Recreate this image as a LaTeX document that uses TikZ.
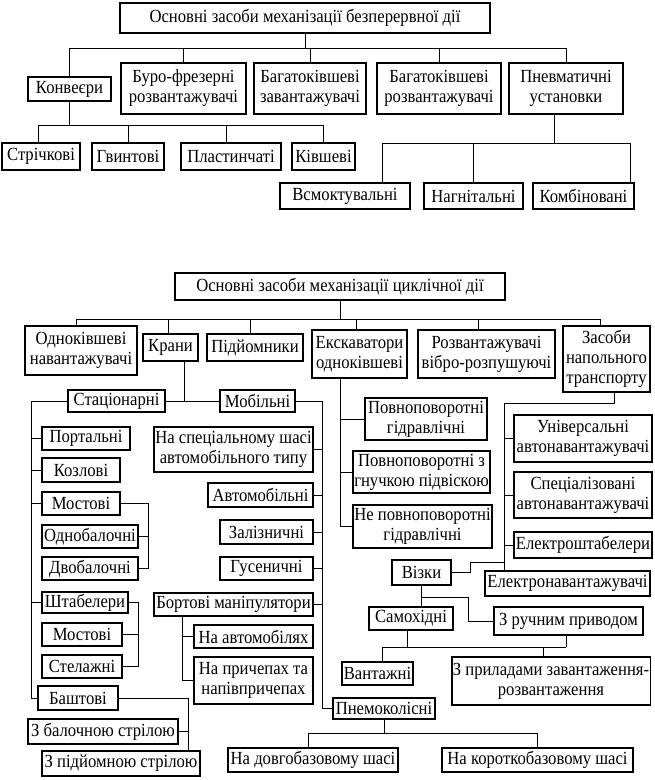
\documentclass[tikz,border=0pt]{standalone}
\usepackage{fontspec}
\setmainfont{Liberation Serif}[FakeStretch=0.9]
\usetikzlibrary{calc}
\tikzset{
  box/.style={draw, line width=1.3pt, inner sep=1pt, align=center, font=\fontsize{18.5}{20}\selectfont},
  ln/.style={line width=0.9pt},
}
\newcommand\bx[6]{%
  \node[box, minimum width={#4pt-#2pt}, minimum height={#5pt-#3pt}] (#1) at ({(#2+#4)/2},{(#3+#5)/2}) {#6};}
\newcommand\drop[4]{%
  \coordinate (#4) at ([xshift=#2pt]#1.north);
  \draw[ln] (#4) -- (#4 |- #3);}
\begin{document}
\begin{tikzpicture}[x=1pt,y=-1pt]
\useasboundingbox (0,0) rectangle (655,780);
\fill[white] (0,0) rectangle (655,780);
% ---------- section 1 ----------
\bx{t1}{120}{3}{490}{33}{Основні засоби механізації безперервної дії}
\bx{konv}{28}{77}{111}{101}{Конвеєри}
\bx{buro}{121}{63}{246}{114}{Буро-фрезерні\\розвантажувачі}
\bx{bz}{254}{63}{366}{114}{Багатоківшеві\\завантажувачі}
\bx{br}{377}{63}{501}{114}{Багатоківшеві\\розвантажувачі}
\bx{pn}{509}{63}{623}{114}{Пневматичні\\установки}
\bx{s1}{2}{143}{80}{170}{Стрічкові}
\bx{s2}{92}{143}{164}{170}{Гвинтові}
\bx{s3}{181}{143}{281}{170}{Пластинчаті}
\bx{s4}{292}{143}{355}{170}{Ківшеві}
\bx{vs}{280}{183}{410}{209}{Всмоктувальні}
\bx{nag}{424}{183}{523}{209}{Нагнітальні}
\bx{komb}{533}{183}{634}{209}{Комбіновані}

\coordinate (b1) at (0,48);
\draw[ln] (t1.south) -- (t1.south |- b1);
\drop{konv}{0}{b1}{a1}\drop{buro}{0}{b1}{a2}\drop{bz}{0}{b1}{a3}\drop{br}{0}{b1}{a4}\drop{pn}{0}{b1}{a5}
\draw[ln] (a1 |- b1) -- (a5 |- b1);

\coordinate (bk) at (0,125);
\draw[ln] (konv.south) -- (konv.south |- bk);
\drop{s1}{-3}{bk}{c1}\drop{s2}{0}{bk}{c2}\drop{s3}{-5}{bk}{c3}\drop{s4}{0}{bk}{c4}
\draw[ln] (c1 |- bk) -- (c4 |- bk);

\coordinate (bp) at (0,143);
\coordinate (pp) at ([xshift=-12pt]pn.south);
\draw[ln] (pp) -- (pp |- bp);
\drop{vs}{37}{bp}{e1}\drop{nag}{0}{bp}{e2}\drop{komb}{47}{bp}{e3}
\draw[ln] (e1 |- bp) -- (e3 |- bp);

% ---------- section 2 ----------
\bx{t2}{175}{273}{505}{300}{Основні засоби механізації циклічної дії}
\bx{od}{25}{326}{137}{375}{Одноківшеві\\навантажувачі}
\bx{kr}{143}{334}{198}{361}{Крани}
\bx{pid}{207}{334}{303}{361}{Підйомники}
\bx{ek}{312}{330}{407}{378}{Екскаватори\\одноківшеві}
\bx{roz}{418}{330}{555}{378}{Розвантажувачі\\вібро-розпушуючі}
\bx{zas}{563}{326}{650}{392}{Засоби\\напольного\\транспорту}

\coordinate (b2) at (0,319);
\draw[ln] (t2.south) -- (t2.south |- b2);
\drop{od}{-5}{b2}{f1}\drop{kr}{-2.5}{b2}{f2}\drop{pid}{-5}{b2}{f3}\drop{ek}{-3.5}{b2}{f4}\drop{roz}{-8.5}{b2}{f5}\drop{zas}{-6.5}{b2}{f6}
\draw[ln] (f1 |- b2) -- (f6 |- b2);

% cranes
\bx{st}{68}{390}{165}{412}{Стаціонарні}
\bx{mob}{220}{390}{295}{412}{Мобільні}
\bx{port}{42}{427}{130}{450}{Портальні}
\bx{koz}{42}{458}{120}{482}{Козлові}
\bx{most}{42}{492}{120}{515}{Мостові}
\bx{odno}{42}{525}{138}{548}{Однобалочні}
\bx{dvo}{42}{557}{138}{580}{Двобалочні}
\bx{sht}{42}{592}{128}{613}{Штабелери}
\bx{mosts}{42}{623}{122}{646}{Мостові}
\bx{stel}{42}{655}{122}{678}{Стелажні}
\bx{bash}{38}{686}{118}{710}{Баштові}
\bx{zbal}{28}{719}{178}{744}{З балочною стрілою}
\bx{zpid}{42}{751}{200}{776}{З підйомною стрілою}

\coordinate (kd) at ([xshift=13.5pt]kr.south);
\draw[ln] (kd) -- (kd |- st.east);
\draw[ln] (st.east) -- (mob.west);

\coordinate (sv) at (31,0);
\draw[ln] (st.west) -| (sv |- bash.west) -- (bash.west);
\foreach \n in {port,koz,most,sht} \draw[ln] (\n.west) -- (sv |- \n.west);

\coordinate (mb) at (148,0);
\draw[ln] (most.east) -| (mb |- dvo.east) -- (dvo.east);
\draw[ln] (odno.east) -- (mb |- odno.east);

\coordinate (sb) at (138,0);
\draw[ln] (sht.east) -| (sb |- stel.east) -- (stel.east);
\draw[ln] (mosts.east) -- (sb |- mosts.east);

\coordinate (bb) at (188,0);
\draw[ln] (bash.east) -| (bb |- zpid.north);
\draw[ln] (zbal.east) -- (bb |- zbal.east);

% mobile
\bx{spec}{154}{427}{313}{472}{На спеціальному шасі\\автомобільного типу}
\bx{avto}{208}{483}{313}{507}{Автомобільні}
\bx{zal}{220}{520}{313}{544}{Залізничні}
\bx{gus}{220}{557}{313}{580}{Гусеничні}
\bx{bort}{154}{593}{313}{616}{Бортові маніпулятори}
\bx{naavt}{194}{625}{313}{648}{На автомобілях}
\bx{naprych}{194}{657}{313}{704}{На причепах та\\напівпричепах}
\bx{pnemo}{333}{698}{435}{719}{Пнемоколісні}
\bx{dovg}{228}{748}{398}{772}{На довгобазовому шасі}
\bx{kor}{442}{748}{633}{772}{На короткобазовому шасі}

\coordinate (mv) at (322,0);
\draw[ln] (mob.east) -| (mv |- pnemo.west) -- (pnemo.west);
\foreach \n in {spec,avto,zal,gus,bort} \draw[ln] (\n.east) -- (mv |- \n.east);

\coordinate (bv) at (182,0);
\draw[ln] (bv |- bort.south) |- (naprych.west);
\draw[ln] (naavt.west) -- (bv |- naavt.west);

\coordinate (b3) at (0,733);
\draw[ln] (pnemo.south) -- (pnemo.south |- b3);
\drop{dovg}{-5}{b3}{g1}\drop{kor}{0}{b3}{g2}
\draw[ln] (g1 |- b3) -- (g2 |- b3);

% excavators
\bx{pg}{365}{398}{487}{440}{Повноповоротні\\гідравлічні}
\bx{pgn}{353}{451}{490}{493}{Повноповоротні з\\гнучкою підвіскою}
\bx{nep}{353}{505}{492}{548}{Не повноповоротні\\гідравлічні}
\coordinate (ev) at ([xshift=-19.5pt]ek.south);
\draw[ln] (ev) |- (nep.west);
\draw[ln] (pg.west) -- (ev |- pg.west);
\draw[ln] (pgn.west) -- (ev |- pgn.west);

% floor transport
\bx{univ}{514}{415}{652}{462}{Універсальні\\автонавантажувачі}
\bx{spz}{514}{472}{652}{518}{Спеціалізовані\\автонавантажувачі}
\bx{elsh}{514}{532}{652}{558}{Електроштабелери}
\bx{viz}{392}{560}{451}{585}{Візки}
\bx{elnav}{485}{571}{650}{596}{Електронавантажувачі}
\bx{samo}{369}{607}{453}{630}{Самохідні}
\bx{zruch}{494}{607}{643}{635}{З ручним приводом}
\bx{vant}{342}{662}{413}{685}{Вантажні}
\bx{zpryl}{452}{657}{650}{705}{З приладами завантаження-\\розвантаження}

\coordinate (zs) at ([xshift=7.5pt]zas.south);
\coordinate (zv) at (504,403);
\draw[ln] (zs) |- (zv) -- (zv |- elnav.north);
\foreach \n in {univ,spz,elsh} \draw[ln] (\n.west) -- (zv |- \n.west);

\coordinate (vj) at (470,562);
\draw[ln] (viz.east) -| (vj) -- (zv |- vj);

\coordinate (vb) at (468,597);
\draw[ln] (viz.south) -- (viz.south |- samo.north);
\draw[ln] (viz.south |- vb) -| (vb |- zruch.west) -- (zruch.west);

\coordinate (bs) at (0,647);
\coordinate (sd) at ([xshift=-4pt]samo.south);
\draw[ln] (sd) -- (sd |- bs);
\coordinate (zd) at ([xshift=-2.5pt]zruch.south);
\draw[ln] (zd) -- (zd |- bs);
\drop{vant}{4.5}{bs}{h1}\drop{zpryl}{-8}{bs}{h2}
\draw[ln] (h1 |- bs) -- (zd |- bs);
\end{tikzpicture}
\end{document}
